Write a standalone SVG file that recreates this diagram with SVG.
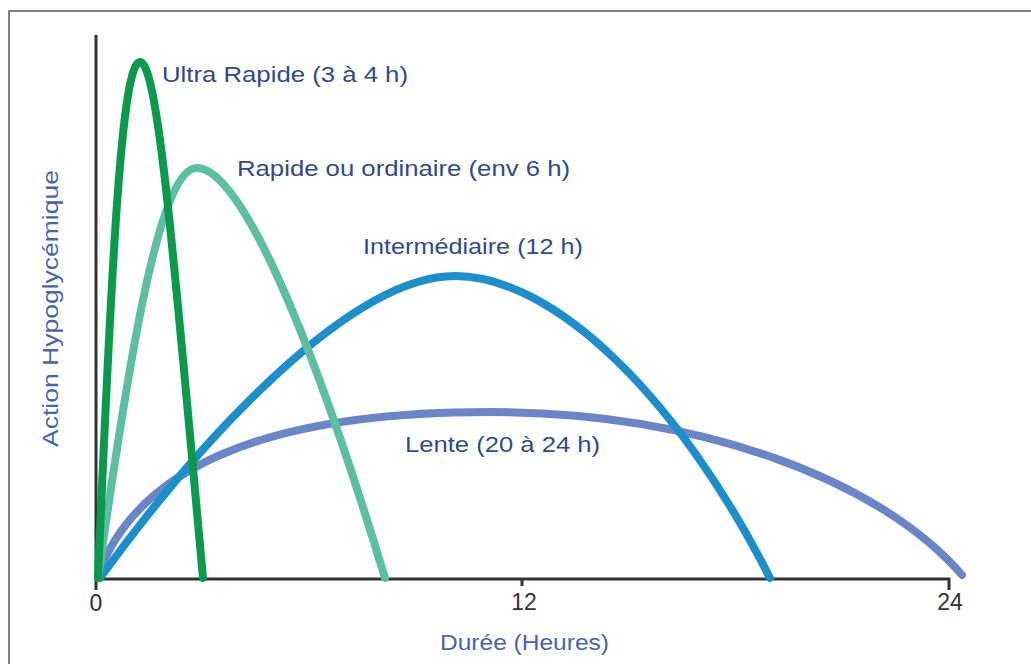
<svg xmlns="http://www.w3.org/2000/svg" width="1031" height="664" viewBox="0 0 1031 664">
<style>
.curve{fill:none;stroke-width:8;stroke-linecap:round;stroke-linejoin:round}
.axis{fill:none;stroke:#333;stroke-width:3}
.lbl{font-family:"Liberation Sans",Arial,sans-serif;font-size:22px;fill:#2f4b8c}
.tick{font-family:"Liberation Sans",Arial,sans-serif;font-size:23px;fill:#333;text-anchor:middle}
</style>
<rect x="0" y="0" width="1031" height="664" fill="#fff"/>
<path d="M9,680 V11 H1040" fill="none" stroke="#808080" stroke-width="2"/>
<g id="axes">
<path class="axis" d="M96,35 V590"/>
<path class="axis" d="M96,579 H949 V590"/>
<path class="axis" d="M522,579 V586"/>
<text class="tick" x="96" y="611">0</text>
<text class="tick" x="524" y="610">12</text>
<text class="tick" x="950" y="610">24</text>
<text class="lbl" x="440" y="650" textLength="169" lengthAdjust="spacingAndGlyphs" style="fill:#4565ad">Durée (Heures)</text>
<text class="lbl" transform="translate(58,447) rotate(-90)" x="0" y="0" textLength="277" lengthAdjust="spacingAndGlyphs" style="fill:#4565ad">Action Hypoglycémique</text>
</g>
<g id="connectors">
<path id="lente" class="curve" stroke="#6b86c8" d="M98,575 C135,475 250,412 490,412 C700,412 880,480 962,575"/>
<path id="inter" class="curve" stroke="#1b8fcb" d="M100,578 C200,440 350,276 455,276 C555,276 680,400 770,578"/>
<path id="rapide" class="curve" stroke="#5cbfa0" d="M98,578 C130,350 160,168 197,168 C240,168 310,330 385,578"/>
<path id="ultra" class="curve" stroke="#0a9a4c" d="M98,578 C112,250 122,62 140,62 C158,62 174,260 203,578"/>
</g>
<g id="node-ultra"><text class="lbl" x="162" y="82" textLength="246" lengthAdjust="spacingAndGlyphs">Ultra Rapide (3 à 4 h)</text></g>
<g id="node-rapide"><text class="lbl" x="237" y="176" textLength="333" lengthAdjust="spacingAndGlyphs">Rapide ou ordinaire (env 6 h)</text></g>
<g id="node-inter"><text class="lbl" x="363" y="254" textLength="220" lengthAdjust="spacingAndGlyphs">Intermédiaire (12 h)</text></g>
<g id="node-lente"><text class="lbl" x="405" y="452" textLength="195" lengthAdjust="spacingAndGlyphs">Lente (20 à 24 h)</text></g>
</svg>
